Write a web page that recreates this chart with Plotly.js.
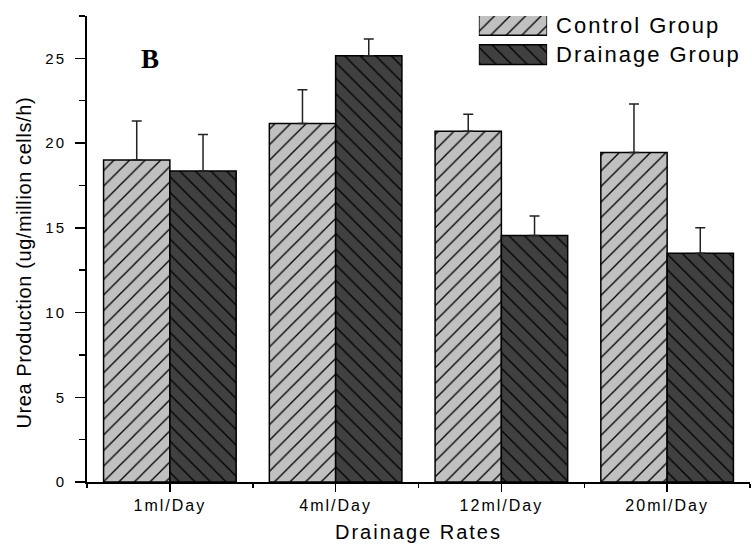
<!DOCTYPE html>
<html>
<head>
<meta charset="utf-8">
<script src="https://cdn.plot.ly/plotly-3.0.1.min.js"></script>
<style>
  html, body { margin: 0; padding: 0; background: #fff; }
  #chart { width: 752px; height: 550px; }
  /* wide tracking on the axis and key text */
  .xtick text { letter-spacing: 2px; }
  .ytick text { letter-spacing: 2px; }
  .y2tick text { letter-spacing: 2px; }
  .xtitle { letter-spacing: 2px; }
  .annotation-text { letter-spacing: 0.6px; }
</style>
</head>
<body>
<div id="chart"></div>
<script>
// Drainage rate categories
const rates = ['1ml/Day', '4ml/Day', '12ml/Day', '20ml/Day'];
// Urea production, ug/million cells/h
const controlValues = [19.0, 21.15, 20.7, 19.45];
const controlErrors = [2.3, 2.0, 1.0, 2.85];
const drainageValues = [18.35, 25.15, 14.55, 13.5];
const drainageErrors = [2.15, 1.0, 1.15, 1.5];
// Series names (also used for the key)
const seriesNames = ['Control Group', 'Drainage Group'];
const yTitle = 'Urea Production (ug/million cells/h)';
const xTitle = 'Drainage Rates';
const panelLabel = 'B';

const ratePositions = rates.map((_, i) => i);
const zeros = rates.map(() => 0);

const controlStyle = {
  color: '#c0c0c0',
  line: { color: '#000', width: 1.5 },
  pattern: { shape: '/', fgcolor: '#000', bgcolor: '#c0c0c0', size: 11, solidity: 0.12, fillmode: 'replace' }
};
const drainageStyle = {
  color: '#404040',
  line: { color: '#000', width: 1.5 },
  pattern: { shape: '\\', fgcolor: '#000', bgcolor: '#404040', size: 11, solidity: 0.12, fillmode: 'replace' }
};
const errStyle = { type: 'data', symmetric: false, color: '#222', thickness: 1.5, width: 5 };

const traces = [
  {
    type: 'bar', name: seriesNames[0], x: ratePositions, y: controlValues,
    marker: controlStyle,
    error_y: Object.assign({ array: controlErrors, arrayminus: zeros }, errStyle),
    showlegend: false, hoverinfo: 'skip'
  },
  {
    type: 'bar', name: seriesNames[1], x: ratePositions, y: drainageValues,
    marker: drainageStyle,
    error_y: Object.assign({ array: drainageErrors, arrayminus: zeros }, errStyle),
    showlegend: false, hoverinfo: 'skip'
  },
  // key swatches: wide hatched boxes beside their names
  {
    type: 'bar', orientation: 'h', xaxis: 'x2', yaxis: 'y2',
    x: [1], y: [seriesNames[0]], width: 0.68,
    marker: controlStyle, showlegend: false, hoverinfo: 'skip'
  },
  {
    type: 'bar', orientation: 'h', xaxis: 'x2', yaxis: 'y2',
    x: [1], y: [seriesNames[1]], width: 0.68,
    marker: drainageStyle, showlegend: false, hoverinfo: 'skip'
  }
];

const sans = 'Liberation Sans, Arial, sans-serif';

const layout = {
  width: 752, height: 550,
  margin: { l: 87, r: 2, t: 16, b: 68 },
  paper_bgcolor: '#fff', plot_bgcolor: '#fff',
  showlegend: false,
  barmode: 'group', bargap: 0.2, bargroupgap: 0,
  xaxis: {
    range: [-0.5, 3.5], tickmode: 'array', tickvals: ratePositions, ticktext: rates,
    showline: true, linecolor: '#000', linewidth: 2,
    ticks: 'outside', ticklen: 8, tickwidth: 1.5, tickcolor: '#000',
    minor: { tickmode: 'array', tickvals: [-0.5, 0.5, 1.5, 2.5, 3.5], ticks: 'outside', ticklen: 4, tickwidth: 1.5, tickcolor: '#000' },
    showgrid: false, zeroline: false,
    tickfont: { family: sans, size: 16, color: '#000' },
    ticklabelstandoff: 0,
    title: { text: xTitle, font: { family: sans, size: 20, color: '#000' }, standoff: 12 }
  },
  yaxis: {
    range: [0, 27.5], tickmode: 'linear', tick0: 0, dtick: 5,
    showline: true, linecolor: '#000', linewidth: 2,
    ticks: 'outside', ticklen: 10, tickwidth: 1.5, tickcolor: '#000',
    minor: { tickmode: 'linear', tick0: 0, dtick: 2.5, ticks: 'outside', ticklen: 6, tickwidth: 1.5, tickcolor: '#000' },
    showgrid: false, zeroline: false,
    tickfont: { family: sans, size: 15, color: '#000' },
    ticklabelstandoff: 6
  },
  xaxis2: {
    domain: [0.591, 0.694], range: [0, 1], anchor: 'y2',
    visible: false, fixedrange: true
  },
  yaxis2: {
    domain: [0.862, 1], anchor: 'x2', side: 'right',
    type: 'category', categoryorder: 'array', categoryarray: [seriesNames[1], seriesNames[0]],
    range: [-0.877, 1.317],
    showline: false, showgrid: false, zeroline: false, ticks: '',
    ticklabelstandoff: 8,
    tickfont: { family: sans, size: 22, color: '#000' },
    fixedrange: true
  },
  annotations: [
    {
      xref: 'paper', yref: 'paper', x: -0.0965, y: 0.471,
      xanchor: 'center', yanchor: 'middle', showarrow: false, textangle: -90,
      text: yTitle,
      font: { family: sans, size: 20, color: '#000' }
    },
    {
      xref: 'paper', yref: 'paper', x: 0.0965, y: 0.907,
      xanchor: 'center', yanchor: 'middle', showarrow: false,
      text: '<b>' + panelLabel + '</b>',
      font: { family: 'Liberation Serif, Times New Roman, serif', size: 27, color: '#000' }
    }
  ]
};

Plotly.newPlot('chart', traces, layout, { staticPlot: true, displayModeBar: false });
</script>
</body>
</html>
